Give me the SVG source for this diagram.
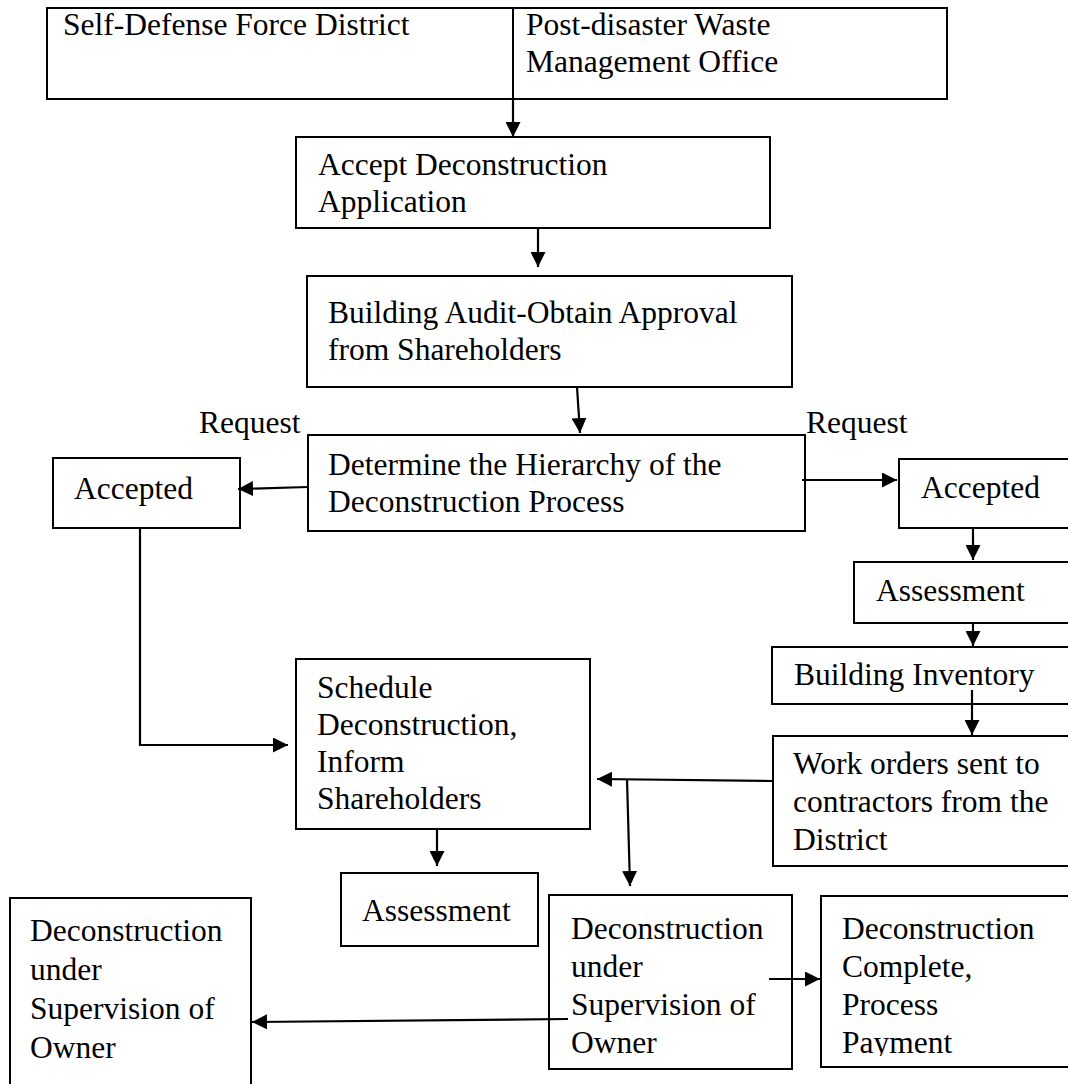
<svg xmlns="http://www.w3.org/2000/svg" width="1068" height="1084" viewBox="0 0 1068 1084">
<style>
rect.box{fill:#fff;stroke:#000;stroke-width:2}
text{font-family:"Liberation Serif","Times New Roman",serif;font-size:31.5px;fill:#000}
.c line,.c polyline{stroke:#000;stroke-width:2.2;fill:none}
.a{marker-end:url(#ah)}
</style>
<defs>
<marker id="ah" markerUnits="userSpaceOnUse" markerWidth="15" markerHeight="15" refX="15" refY="7.5" orient="auto">
<path d="M0,0 L15,7.5 L0,15 z" fill="#000"/>
</marker>
<clipPath id="clipPay"><rect x="821" y="896" width="260" height="160"/></clipPath>
</defs>
<rect width="1068" height="1084" fill="#fff"/>

<g id="top-box">
<rect class="box" x="47" y="8" width="900" height="91"/>
<line x1="513" y1="8" x2="513" y2="99" stroke="#000" stroke-width="2"/>
<text x="63" y="35">Self-Defense Force District</text>
<text x="526" y="35">Post-disaster Waste</text>
<text x="526" y="72">Management Office</text>
</g>

<g id="accept-application">
<rect class="box" x="296" y="137" width="474" height="91"/>
<text x="318" y="175">Accept Deconstruction</text>
<text x="318" y="212">Application</text>
</g>

<g id="building-audit">
<rect class="box" x="307" y="276" width="485" height="111"/>
<text x="328" y="323">Building Audit-Obtain Approval</text>
<text x="328" y="360">from Shareholders</text>
</g>

<g id="request-left"><text x="199" y="433">Request</text></g>
<g id="request-right"><text x="806" y="433">Request</text></g>

<g id="determine-hierarchy">
<rect class="box" x="308" y="435" width="497" height="96"/>
<text x="328" y="475">Determine the Hierarchy of the</text>
<text x="328" y="512">Deconstruction Process</text>
</g>

<g id="accepted-left">
<rect class="box" x="53" y="458" width="187" height="70"/>
<text x="74" y="499">Accepted</text>
</g>

<g id="accepted-right">
<rect class="box" x="899" y="459" width="190" height="69"/>
<text x="921" y="498">Accepted</text>
</g>

<g id="assessment-right">
<rect class="box" x="854" y="562" width="235" height="61"/>
<text x="876" y="601">Assessment</text>
</g>

<g id="building-inventory">
<rect class="box" x="772" y="647" width="317" height="57"/>
<text x="794" y="685">Building Inventory</text>
</g>

<g id="work-orders">
<rect class="box" x="773" y="736" width="316" height="130"/>
<text x="793" y="774">Work orders sent to</text>
<text x="793" y="812">contractors from the</text>
<text x="793" y="850">District</text>
</g>

<g id="schedule">
<rect class="box" x="296" y="659" width="294" height="170"/>
<text x="317" y="698">Schedule</text>
<text x="317" y="735">Deconstruction,</text>
<text x="317" y="772">Inform</text>
<text x="317" y="809">Shareholders</text>
</g>

<g id="assessment-middle">
<rect class="box" x="341" y="873" width="197" height="73"/>
<text x="362" y="921">Assessment</text>
</g>

<g id="deconstruction-owner-left">
<rect class="box" x="10" y="898" width="241" height="200"/>
<text x="30" y="941">Deconstruction</text>
<text x="30" y="980">under</text>
<text x="30" y="1019">Supervision of</text>
<text x="30" y="1058">Owner</text>
</g>

<g id="deconstruction-owner-middle">
<rect class="box" x="549" y="895" width="243" height="174"/>
<text x="571" y="939">Deconstruction</text>
<text x="571" y="977">under</text>
<text x="571" y="1015">Supervision of</text>
<text x="571" y="1053">Owner</text>
</g>

<g id="deconstruction-complete">
<rect class="box" x="821" y="896" width="260" height="171"/>
<g clip-path="url(#clipPay)">
<text x="842" y="939">Deconstruction</text>
<text x="842" y="977">Complete,</text>
<text x="842" y="1015">Process</text>
<text x="842" y="1053">Payment</text>
</g>
</g>

<g id="connectors" class="c">
<line class="a" x1="513" y1="99" x2="513" y2="137"/>
<line class="a" x1="538" y1="228" x2="538" y2="267"/>
<line class="a" x1="577" y1="387" x2="580" y2="433"/>
<line class="a" x1="308" y1="487" x2="238" y2="489"/>
<line class="a" x1="802" y1="480" x2="897" y2="480"/>
<line class="a" x1="973" y1="529" x2="973" y2="560"/>
<line class="a" x1="973" y1="623" x2="973" y2="646"/>
<line class="a" x1="972" y1="690" x2="972" y2="735"/>
<line class="a" x1="773" y1="781" x2="597" y2="779"/>
<line class="a" x1="627" y1="779" x2="630" y2="886"/>
<polyline class="a" points="140,528 140,745 288,745"/>
<line class="a" x1="437" y1="829" x2="437" y2="866"/>
<line class="a" x1="769" y1="979" x2="820" y2="979"/>
<line class="a" x1="568" y1="1019" x2="252" y2="1022"/>
</g>
</svg>
